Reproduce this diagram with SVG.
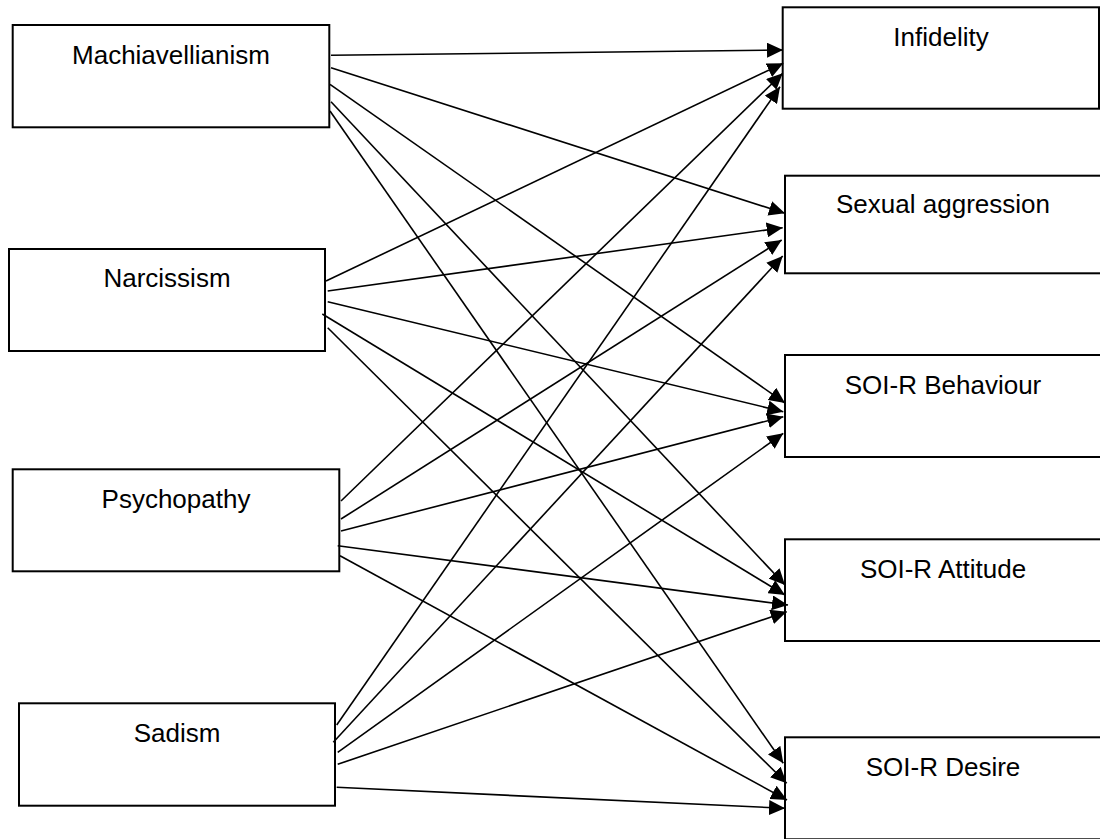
<svg xmlns="http://www.w3.org/2000/svg" width="1100" height="839" viewBox="0 0 1100 839">
<style>
.box{fill:#fff;stroke:#000;stroke-width:2}
.lbl{font-family:"Liberation Sans",Arial,sans-serif;font-size:26px;fill:#000;text-anchor:middle}
.cn line{stroke:#000;stroke-width:1.6;marker-end:url(#ah)}
</style>
<defs>
<marker id="ah" markerUnits="userSpaceOnUse" markerWidth="16" markerHeight="15" refX="16" refY="7.5" orient="auto">
<path d="M0,0 L16,7.5 L0,15 z" fill="#000"/>
</marker>
</defs>
<rect width="1100" height="839" fill="#fff"/>
<g id="n-mach"><rect class="box" x="12.7" y="25" width="316.6" height="102.3"/><text class="lbl" x="171" y="64">Machiavellianism</text></g>
<g id="n-narc"><rect class="box" x="9" y="249" width="316" height="102"/><text class="lbl" x="167" y="287">Narcissism</text></g>
<g id="n-psych"><rect class="box" x="12.7" y="469.3" width="326.6" height="102"/><text class="lbl" x="176" y="508">Psychopathy</text></g>
<g id="n-sad"><rect class="box" x="19" y="703.3" width="316" height="102.4"/><text class="lbl" x="177" y="742">Sadism</text></g>
<g id="n-inf"><rect class="box" x="782.7" y="7.3" width="316.3" height="101.4"/><text class="lbl" x="941" y="46">Infidelity</text></g>
<g id="n-sex"><rect class="box" x="785" y="175.7" width="317" height="97.6"/><text class="lbl" x="943" y="213">Sexual aggression</text></g>
<g id="n-beh"><rect class="box" x="785" y="355" width="317" height="102"/><text class="lbl" x="943" y="394">SOI-R Behaviour</text></g>
<g id="n-att"><rect class="box" x="785" y="539.3" width="317" height="101.7"/><text class="lbl" x="943" y="578">SOI-R Attitude</text></g>
<g id="n-des"><rect class="box" x="785" y="737.3" width="317" height="102"/><text class="lbl" x="943" y="776">SOI-R Desire</text></g>
<g id="connectors" class="cn">
<line x1="331" y1="55.3" x2="783" y2="50"/>
<line x1="331" y1="67.7" x2="785" y2="213.3"/>
<line x1="330" y1="84.3" x2="785" y2="403"/>
<line x1="331" y1="101.7" x2="785" y2="585"/>
<line x1="330" y1="111" x2="783.3" y2="763.3"/>
<line x1="326" y1="281" x2="783.3" y2="63.3"/>
<line x1="327.7" y1="291" x2="782.7" y2="227.7"/>
<line x1="327.7" y1="301.7" x2="783.3" y2="411.7"/>
<line x1="322.3" y1="314" x2="785" y2="595"/>
<line x1="327.7" y1="327.7" x2="786.7" y2="783.3"/>
<line x1="341" y1="501" x2="782.7" y2="73.3"/>
<line x1="341" y1="519" x2="781.7" y2="240"/>
<line x1="341" y1="531" x2="783.3" y2="416.7"/>
<line x1="337.7" y1="545.7" x2="788" y2="605"/>
<line x1="340" y1="555.7" x2="787" y2="800"/>
<line x1="336.7" y1="725" x2="780" y2="86.7"/>
<line x1="333.3" y1="742.3" x2="782.7" y2="256"/>
<line x1="337.7" y1="752.3" x2="783.3" y2="433.3"/>
<line x1="337.7" y1="764.3" x2="786.7" y2="611.7"/>
<line x1="336.7" y1="787.3" x2="785" y2="808.3"/>
</g>
</svg>
